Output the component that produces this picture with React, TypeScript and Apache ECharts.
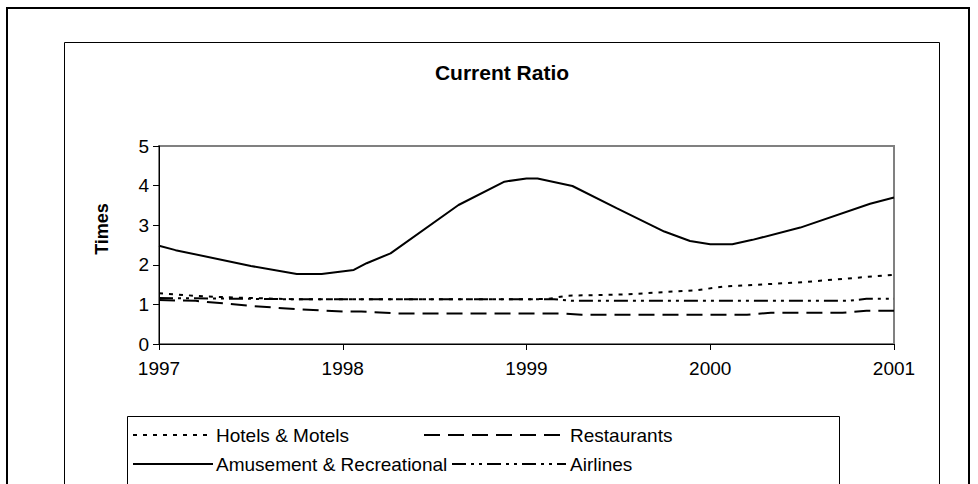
import React, { useEffect, useRef } from "react";
import * as echarts from "echarts";

const titleText = "Current Ratio";
const yAxisTitle = "Times";
const xTicks = [1997, 1998, 1999, 2000, 2001];
const yTicks = [0, 1, 2, 3, 4, 5];
const seriesNames = ["Hotels & Motels", "Restaurants", "Amusement & Recreational", "Airlines"];

const hotelsYears = [1997.0, 1997.25, 1997.5, 1997.75, 1998.0, 1998.5, 1999.0, 1999.12, 1999.22, 1999.53, 1999.93, 2000.07, 2000.5, 2001.0];
const hotelsValues = [1.28, 1.2, 1.16, 1.13, 1.13, 1.13, 1.13, 1.14, 1.22, 1.25, 1.36, 1.45, 1.56, 1.75];

const restaurantsYears = [1997.0, 1997.2, 1997.5, 1997.75, 1998.0, 1998.1, 1998.3, 1999.2, 1999.3, 2000.2, 2000.33, 2000.72, 2000.85, 2001.0];
const restaurantsValues = [1.11, 1.09, 0.96, 0.88, 0.82, 0.82, 0.77, 0.77, 0.74, 0.74, 0.79, 0.79, 0.84, 0.84];

const amusementYears = [1997.0, 1997.09, 1997.5, 1997.75, 1997.885, 1998.06, 1998.13, 1998.26, 1998.63, 1998.88, 1999.0, 1999.06, 1999.25, 1999.49, 1999.75, 1999.89, 2000.0, 2000.12, 2000.23, 2000.49, 2000.87, 2001.0];
const amusementValues = [2.48, 2.37, 1.97, 1.77, 1.77, 1.87, 2.04, 2.29, 3.51, 4.1, 4.18, 4.18, 3.99, 3.43, 2.84, 2.6, 2.52, 2.52, 2.63, 2.94, 3.54, 3.7];

const airlinesYears = [1997.0, 1997.5, 1997.75, 1999.15, 1999.25, 2000.75, 2000.85, 2001.0];
const airlinesValues = [1.16, 1.14, 1.13, 1.13, 1.09, 1.09, 1.14, 1.14];

const FONT = "'Liberation Sans', Arial, sans-serif";

const dashHotels = [4, 6];
const dashRestaurants = [16, 8];
const dashAirlines = [14, 5, 3, 5, 3, 5];

function zip(xs: number[], ys: number[]) {
  return xs.map((x, i) => [x, ys[i]]);
}

export default function App() {
  const ref = useRef<HTMLDivElement>(null);
  useEffect(() => {
    if (!ref.current) return;
    const chart = echarts.init(ref.current, undefined, { renderer: "svg" });
    const mk = (name: string, data: number[][], type: any) => ({
      name,
      type: "line",
      data,
      symbol: "none",
      smooth: false,
      lineStyle: { color: "#000", width: 2, type },
      z: 3,
    });
    const legendText = (x: number, y: number, t: string) => ({
      type: "text",
      x,
      y,
      z: 5,
      style: { text: t, font: `19px ${FONT}`, fill: "#000", verticalAlign: "middle", align: "left" },
    });
    const legendLine = (x1: number, x2: number, y: number, dash: any) => ({
      type: "line",
      z: 4,
      shape: { x1, y1: y, x2, y2: y },
      style: { stroke: "#000", lineWidth: 2, lineDash: dash },
    });
    chart.setOption({
      animation: false,
      backgroundColor: "#fff",
      grid: { left: 159, right: 84, top: 146, bottom: 140, show: true, borderColor: "#808080", borderWidth: 2 },
      xAxis: {
        type: "value",
        min: xTicks[0],
        max: xTicks[xTicks.length - 1],
        interval: 1,
        splitLine: { show: false },
        axisLine: { lineStyle: { color: "#000", width: 1 } },
        axisTick: { show: true, length: 6, lineStyle: { color: "#000" } },
        axisLabel: { color: "#000", fontSize: 19, fontFamily: FONT, margin: 15, formatter: (v: number) => String(v) },
      },
      yAxis: {
        type: "value",
        min: yTicks[0],
        max: yTicks[yTicks.length - 1],
        interval: 1,
        splitLine: { show: false },
        axisLine: { show: true, lineStyle: { color: "#000", width: 1 } },
        axisTick: { show: true, length: 6, lineStyle: { color: "#000" } },
        axisLabel: { color: "#000", fontSize: 19, fontFamily: FONT, margin: 10 },
      },
      graphic: [
        { type: "rect", z: -10, shape: { x: 7, y: 8, width: 962, height: 600 }, style: { fill: "none", stroke: "#000", lineWidth: 2 } },
        { type: "rect", z: -9, shape: { x: 64.5, y: 42.5, width: 875, height: 500 }, style: { fill: "none", stroke: "#000", lineWidth: 1 } },
        { type: "rect", z: -8, shape: { x: 127.5, y: 416.5, width: 712, height: 100 }, style: { fill: "none", stroke: "#000", lineWidth: 1 } },
        { type: "text", x: 502, y: 72, style: { text: titleText, font: `bold 21px ${FONT}`, fill: "#000", align: "center", verticalAlign: "middle" } },
        { type: "text", x: 102, y: 229, rotation: Math.PI / 2, style: { text: yAxisTitle, font: `bold 18px ${FONT}`, fill: "#000", align: "center", verticalAlign: "middle" } },
        legendLine(133, 213, 435, dashHotels),
        legendText(216, 435, seriesNames[0]),
        legendLine(424, 566, 435, dashRestaurants),
        legendText(570, 435, seriesNames[1]),
        legendLine(133, 213, 464, null),
        legendText(216, 464, seriesNames[2]),
        legendLine(452, 566, 464, dashAirlines),
        legendText(570, 464, seriesNames[3]),
      ],
      series: [
        mk(seriesNames[0], zip(hotelsYears, hotelsValues), dashHotels),
        mk(seriesNames[1], zip(restaurantsYears, restaurantsValues), dashRestaurants),
        mk(seriesNames[2], zip(amusementYears, amusementValues), "solid"),
        mk(seriesNames[3], zip(airlinesYears, airlinesValues), dashAirlines),
      ],
    });
    return () => chart.dispose();
  }, []);
  return <div ref={ref} style={{ position: "absolute", left: 0, top: 0, width: 978, height: 484 }} />;
}
